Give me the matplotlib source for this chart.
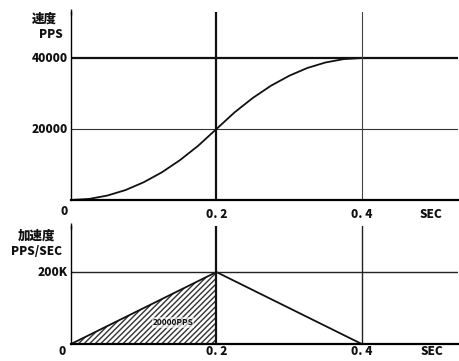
import numpy as np
from matplotlib import pyplot as plt

plt.rcParams['font.family'] = ['Noto Sans CJK JP', 'DejaVu Sans']

# velocity curve (sec, PPS)
t_vel = [0, 0.025, 0.05, 0.075, 0.1, 0.125, 0.15, 0.175, 0.2,
         0.225, 0.25, 0.275, 0.3, 0.325, 0.35, 0.375, 0.4, 0.53]
vel = [0, 300, 1250, 2800, 5000, 7800, 11250, 15300, 20000,
       24700, 28750, 32200, 35000, 37200, 38750, 39700, 40000, 40000]

# acceleration profile (sec, K PPS/SEC)
t_acc = [0, 0.2, 0.4]
acc = [0, 200, 0]

x_ticks = [0.2, 0.4]
x_labels = ['0. 2', '0. 4']
vel_ticks = [20000, 40000]
vel_labels = ['20000', '40000']
acc_ticks = [200]
acc_labels = ['200K']
area_label = '20000PPS'

fig = plt.figure(figsize=(4.6, 3.61), dpi=100)
ax1 = fig.add_axes([0.1543, 0.446, 0.841, 0.521])
ax2 = fig.add_axes([0.1543, 0.047, 0.841, 0.327])

lab = dict(fontsize=8.5, fontweight='heavy', color='#111111')
cjk = dict(fontsize=9, fontweight='heavy', color='#111111')

for ax in (ax1, ax2):
    ax.set_xlim(0, 0.532)
    for s in ('top', 'right'):
        ax.spines[s].set_visible(False)
    ax.spines['left'].set_linewidth(1.0)
    ax.spines['bottom'].set_linewidth(1.6)
    ax.set_xticks([])
    ax.set_yticks([])
    ax.patch.set_alpha(0)

# top: velocity
ax1.set_ylim(0, 53000)
ax1.plot(t_vel, vel, color='#111111', lw=1.3)
ax1.axhline(vel_ticks[1], color='#111111', lw=1.6)
ax1.axhline(vel_ticks[0], color='#333333', lw=0.8)
ax1.axvline(x_ticks[0], color='#111111', lw=1.6)
ax1.axvline(x_ticks[1], color='#444444', lw=0.8)
ax1.plot([0], [53000], marker='|', color='#111111', ms=5, clip_on=False)
for v, s in zip(vel_ticks, vel_labels):
    ax1.text(-0.004, v, s, ha='right', va='center', **lab)
ax1.text(-0.004, -1500, '0', ha='right', va='top', **lab)
for x, s in zip(x_ticks, x_labels):
    ax1.text(x, -2200, s, ha='center', va='top', **lab)
ax1.text(0.495, -2200, 'SEC', ha='center', va='top', **lab)
ax1.text(-0.036, 51200, '速度', ha='center', va='center', **cjk)
ax1.text(-0.028, 46800, 'PPS', ha='center', va='center', **lab)

# bottom: acceleration
ax2.set_ylim(0, 328)
ax2.fill_between(t_acc[:2], acc[:2], 0, facecolor='white', edgecolor='#333333',
                 hatch='//////', lw=0)
ax2.plot(t_acc, acc, color='#111111', lw=1.3)
ax2.axhline(acc_ticks[0], color='#222222', lw=1.0)
ax2.axvline(x_ticks[0], color='#111111', lw=1.6)
ax2.axvline(x_ticks[1], color='#222222', lw=1.0)
ax2.plot([0], [328], marker='|', color='#111111', ms=5, clip_on=False)
for v, s in zip(acc_ticks, acc_labels):
    ax2.text(-0.004, v, s, ha='right', va='center', **lab)
ax2.text(-0.007, -4, '0', ha='right', va='top', **lab)
for x, s in zip(x_ticks, x_labels):
    ax2.text(x, -4, s, ha='center', va='top', **lab)
ax2.text(0.497, -4, 'SEC', ha='center', va='top', **lab)
ax2.text(-0.047, 302, '加速度', ha='center', va='center', **cjk)
ax2.text(-0.047, 258, 'PPS/SEC', ha='center', va='center', **lab)
ax2.text(0.14, 60, area_label, ha='center', va='center', fontsize=6,
         fontweight='bold', color='#111111',
         bbox=dict(facecolor='white', edgecolor='none', pad=0.5, alpha=0.6))

fig.savefig('out.png', dpi=100)
